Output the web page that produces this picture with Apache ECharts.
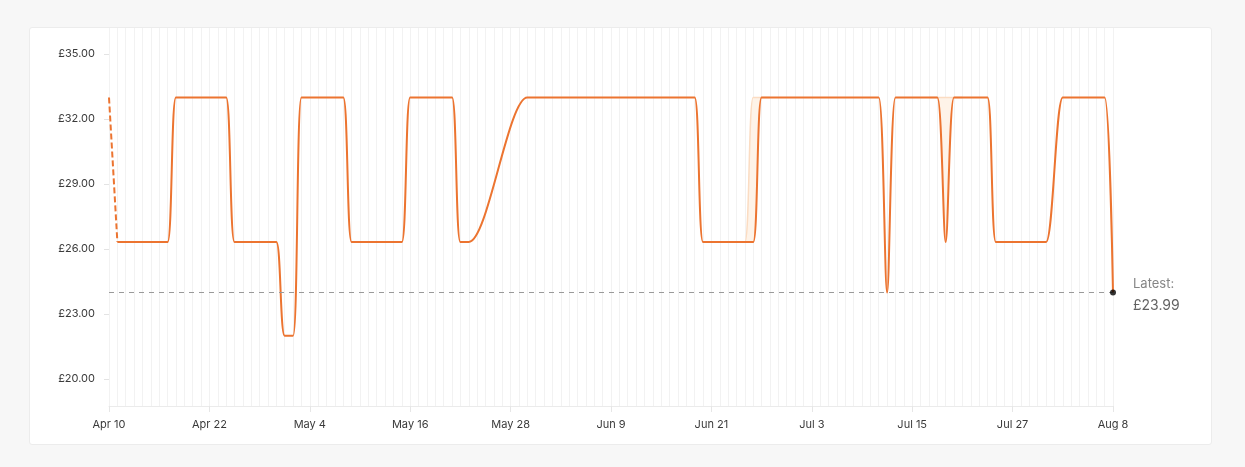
<!DOCTYPE html>
<html>
<head>
<meta charset="utf-8">
<script src="https://cdn.jsdelivr.net/npm/echarts@6/dist/echarts.min.js"></script>
<style>
  html, body { margin: 0; padding: 0; background: #f7f7f7; }
  #card { position: absolute; left: 29px; top: 27px; width: 1181px; height: 416px; background: #fff; border: 1px solid #ececec; border-radius: 3px; }
  #chart { position: absolute; left: 0; top: 0; width: 1245px; height: 467px; }
</style>
</head>
<body>
<div id="card"></div>
<div id="chart"></div>
<script>
// ---- data ----
const startDate = [2024, 3, 10]; // Apr 10 (month index 3)
const dayCount = 121;            // Apr 10 .. Aug 8
const monthNames = ['Jan','Feb','Mar','Apr','May','Jun','Jul','Aug','Sep','Oct','Nov','Dec'];
const categories = [];
for (let i = 0; i < dayCount; i++) {
  const d = new Date(Date.UTC(startDate[0], startDate[1], startDate[2] + i));
  categories.push(monthNames[d.getUTCMonth()] + ' ' + d.getUTCDate());
}
const yTickValues = [20, 23, 26, 29, 32, 35];

// first day (estimated, dashed)
const introPrice = [32.99, 26.32];

// main price line (daily, null = no reading)
const price = [
  null,
  26.32, 26.32, 26.32, 26.32, 26.32, 26.32, 26.32,
  32.99, 32.99, 32.99, 32.99, 32.99, 32.99, 32.99,
  26.32, 26.32, 26.32, 26.32, 26.32, 26.32,
  21.99, 21.99,
  32.99, 32.99, 32.99, 32.99, 32.99, 32.99,
  26.32, 26.32, 26.32, 26.32, 26.32, 26.32, 26.32,
  32.99, 32.99, 32.99, 32.99, 32.99, 32.99,
  26.32, 26.32,
  null, null, null, null, null, null,
  32.99, 32.99, 32.99, 32.99, 32.99, 32.99, 32.99, 32.99, 32.99, 32.99, 32.99,
  32.99, 32.99, 32.99, 32.99, 32.99, 32.99, 32.99, 32.99, 32.99, 32.99,
  26.32, 26.32, 26.32, 26.32, 26.32, 26.32, 26.32,
  32.99, 32.99, 32.99, 32.99, 32.99, 32.99, 32.99, 32.99, 32.99, 32.99, 32.99, 32.99, 32.99, 32.99, 32.99,
  23.99,
  32.99, 32.99, 32.99, 32.99, 32.99, 32.99,
  26.32,
  32.99, 32.99, 32.99, 32.99, 32.99,
  26.32, 26.32, 26.32, 26.32, 26.32, 26.32, 26.32,
  null,
  32.99, 32.99, 32.99, 32.99, 32.99, 32.99,
  23.99
];

// upper edge of the faint price band
const priceHigh = [
  null,
  26.32, 26.32, 26.32, 26.32, 26.32, 26.32, 26.32,
  32.99, 32.99, 32.99, 32.99, 32.99, 32.99, 32.99,
  26.32, 26.32, 26.32, 26.32, 26.32, 26.32,
  21.99, 21.99,
  32.99, 32.99, 32.99, 32.99, 32.99, 32.99,
  26.32, 26.32, 26.32, 26.32, 26.32, 26.32, 26.32,
  32.99, 32.99, 32.99, 32.99, 32.99, 32.99,
  26.32, 26.32,
  null, null, null, null, null, null,
  32.99, 32.99, 32.99, 32.99, 32.99, 32.99, 32.99, 32.99, 32.99, 32.99, 32.99,
  32.99, 32.99, 32.99, 32.99, 32.99, 32.99, 32.99, 32.99, 32.99, 32.99,
  26.32, 26.32, 26.32, 26.32, 26.32, 26.32, 32.99,
  32.99, 32.99, 32.99, 32.99, 32.99, 32.99, 32.99, 32.99, 32.99, 32.99, 32.99, 32.99, 32.99, 32.99, 32.99,
  23.99,
  32.99, 32.99, 32.99, 32.99, 32.99, 32.99,
  32.99,
  32.99, 32.99, 32.99, 32.99, 32.99,
  26.32, 26.32, 26.32, 26.32, 26.32, 26.32, 26.32,
  null,
  32.99, 32.99, 32.99, 32.99, 32.99, 32.99,
  23.99
];

const latestPrice = 23.99;

// ---- build ----
const introData = categories.map((c, i) => (i < introPrice.length ? introPrice[i] : null));
// band is only drawn around days where the upper edge differs from the main line
const inBand = price.map(() => false);
price.forEach((v, i) => {
  if (v != null && priceHigh[i] != null && priceHigh[i] !== v) {
    for (let k = i - 2; k <= i + 2; k++) if (k >= 0 && k < price.length) inBand[k] = true;
  }
});
const bandBase = price.map((v, i) => (inBand[i] ? v : null));
const bandDiff = price.map((v, i) => (inBand[i] ? +(priceHigh[i] - v).toFixed(2) : null));

const FONT = 'Inter, "Noto Sans", sans-serif';
const ORANGE = '#ec7430';

const chart = echarts.init(document.getElementById('chart'), null, { renderer: 'canvas' });
chart.setOption({
  animation: false,
  backgroundColor: 'transparent',
  grid: { left: 109, right: 132, top: 28, bottom: 61, containLabel: false },
  xAxis: {
    type: 'category',
    data: categories,
    boundaryGap: false,
    axisLine: { show: true, lineStyle: { color: '#ebebeb', width: 1 } },
    axisTick: { show: true, interval: 11, length: 6, lineStyle: { color: '#e6e6e6' } },
    axisLabel: { interval: 11, margin: 13, color: '#3a3a3a', fontSize: 11, fontFamily: FONT },
    splitLine: { show: true, interval: 0, lineStyle: { color: '#f2f2f2', width: 1 } }
  },
  yAxis: {
    type: 'value',
    min: 18.75,
    max: 36.2,
    axisLine: { show: false },
    axisTick: { show: true, length: 5, customValues: yTickValues, lineStyle: { color: '#e3e3e3' } },
    axisLabel: {
      customValues: yTickValues, margin: 14, color: '#3a3a3a', fontSize: 11, fontFamily: FONT,
      formatter: v => '£' + v.toFixed(2)
    },
    splitLine: { show: false }
  },
  series: [
    {
      name: 'bandBase',
      type: 'line',
      data: bandBase,
      stack: 'band',
      smooth: 0.3,
      showSymbol: false,
      silent: true,
      z: 2,
      lineStyle: { opacity: 0 }
    },
    {
      name: 'band',
      type: 'line',
      data: bandDiff,
      stack: 'band',
      smooth: 0.3,
      showSymbol: false,
      silent: true,
      z: 3,
      lineStyle: { color: '#fbdcc2', width: 1.5 },
      areaStyle: { color: '#fef3e8', opacity: 1 }
    },
    {
      name: 'price',
      type: 'line',
      data: price,
      smooth: 0.3,
      connectNulls: true,
      showSymbol: false,
      z: 4,
      lineStyle: { color: ORANGE, width: 2 },
      itemStyle: { color: ORANGE },
      markLine: {
        silent: true,
        symbol: 'none',
        label: { show: false },
        lineStyle: { color: '#9a9a9a', type: [5, 5], width: 1 },
        data: [{ yAxis: latestPrice }]
      }
    },
    {
      name: 'intro',
      type: 'line',
      data: introData,
      showSymbol: false,
      z: 4,
      lineStyle: { color: ORANGE, width: 2, type: [6, 3] }
    },
    {
      name: 'latest',
      type: 'scatter',
      data: [[categories.length - 1, latestPrice]],
      symbolSize: 6,
      z: 6,
      itemStyle: { color: '#000' },
      label: {
        show: true,
        position: 'right',
        distance: 17,
        offset: [0, 3],
        formatter: () => '{a|Latest:}\n{b|£' + latestPrice.toFixed(2) + '}',
        rich: {
          a: { fontSize: 13, color: '#666', lineHeight: 20, fontFamily: FONT },
          b: { fontSize: 14, color: '#3a3a3a', lineHeight: 22, fontFamily: FONT }
        }
      }
    }
  ]
});
</script>
</body>
</html>
